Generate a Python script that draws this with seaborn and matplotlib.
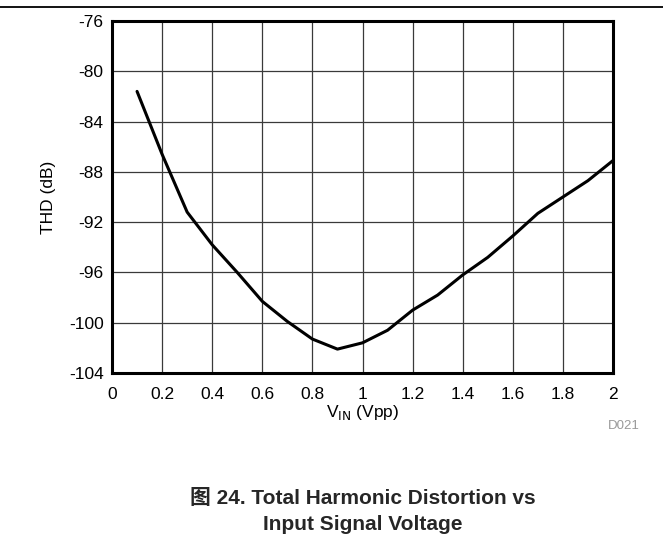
import matplotlib
matplotlib.use("Agg")
import matplotlib.pyplot as plt
import seaborn as sns
import pandas as pd
from matplotlib.lines import Line2D

vin = [0.1, 0.2, 0.3, 0.4, 0.5, 0.6, 0.7, 0.8, 0.9, 1.0, 1.1, 1.2, 1.3, 1.4, 1.5, 1.6, 1.7, 1.8, 1.9, 2.0]
thd = [-81.6, -86.6, -91.2, -93.8, -96.0, -98.3, -99.9, -101.3, -102.1, -101.6, -100.6, -99.0, -97.8, -96.2, -94.8, -93.1, -91.3, -90.0, -88.7, -87.1]
xticks = [0, 0.2, 0.4, 0.6, 0.8, 1, 1.2, 1.4, 1.6, 1.8, 2]
yticks = [-104, -100, -96, -92, -88, -84, -80, -76]

sns.set_theme(style="white")
plt.rcParams['font.family'] = ['Liberation Sans', 'Noto Sans CJK SC', 'DejaVu Sans']

df = pd.DataFrame({"vin": vin, "thd": thd})

fig = plt.figure(figsize=(6.63, 5.4), dpi=100)
ax = fig.add_axes([112/663, 1-373/540, (613-112)/663, (373-21)/540])
sns.lineplot(data=df, x="vin", y="thd", ax=ax, color="black", linewidth=2.2)

ax.set_xlim(0, 2)
ax.set_ylim(-104, -76)
ax.set_xticks(xticks)
ax.set_xticklabels([f"{t:g}" for t in xticks])
ax.set_yticks(yticks)
ax.set_yticklabels([f"{t:g}" for t in yticks])
ax.grid(True, color="#3a3a3a", linewidth=0.9)
ax.tick_params(axis="both", length=0, labelsize=12.5, colors="black")
ax.tick_params(axis="x", pad=10)
ax.tick_params(axis="y", pad=6)
for s in ax.spines.values():
    s.set_color("black")
    s.set_linewidth(2.2)
ax.set_xlabel(r"V$_{\mathrm{IN}}$ (Vpp)", fontsize=12.5, color="black")
ax.set_ylabel("THD (dB)", fontsize=12.5, color="black")
ax.xaxis.set_label_coords(0.5, -0.085)
ax.yaxis.set_label_coords(-0.112, 0.5)

fig.add_artist(Line2D([0, 1], [1-7/540, 1-7/540], color="black", linewidth=1.3, transform=fig.transFigure))
fig.text(624/663, 1-426/540, "D021", fontsize=9.5, color="#999999", ha="center", va="center")
fig.text(363/663, 1-498/540, "图 24. Total Harmonic Distortion vs", fontsize=15, fontweight="bold", ha="center", va="center")
fig.text(363/663, 1-525/540, "Input Signal Voltage", fontsize=15, fontweight="bold", ha="center", va="center")

fig.savefig("out.png", dpi=100)
